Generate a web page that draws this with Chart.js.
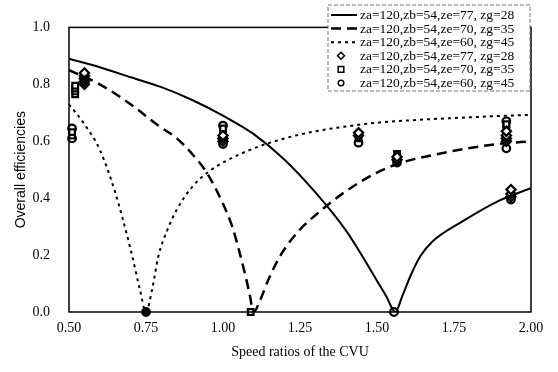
<!DOCTYPE html>
<html>
<head>
<meta charset="utf-8">
<script src="https://cdn.jsdelivr.net/npm/chart.js@4.4.1/dist/chart.umd.min.js"></script>
<style>
  html, body { margin: 0; padding: 0; background: #fff; }
  #wrap { width: 558px; height: 372px; }
</style>
</head>
<body>
<div id="wrap"><canvas id="c"></canvas></div>
<script>
// theoretical curves (speed ratio -> overall efficiency)
var solidX  = [0.5, 0.6, 0.7, 0.8, 0.9, 1.0, 1.1, 1.2, 1.3, 1.4, 1.5, 1.53, 1.56, 1.58, 1.61, 1.64, 1.68, 1.78, 1.9, 2.0];
var solidY  = [0.89, 0.86, 0.825, 0.79, 0.745, 0.69, 0.625, 0.535, 0.42, 0.285, 0.11, 0.055, 0, 0.05, 0.13, 0.195, 0.248, 0.32, 0.393, 0.435];

var dashedX = [0.5, 0.6, 0.7, 0.79, 0.85, 0.9, 0.95, 1.0, 1.03, 1.05, 1.07, 1.085, 1.1, 1.12, 1.15, 1.19, 1.25, 1.3, 1.4, 1.5, 1.58, 1.68, 1.79, 1.9, 2.0];
var dashedY = [0.85, 0.80, 0.73, 0.655, 0.61, 0.555, 0.485, 0.38, 0.30, 0.225, 0.14, 0.07, 0, 0.04, 0.12, 0.205, 0.29, 0.34, 0.425, 0.49, 0.525, 0.551, 0.574, 0.591, 0.60];

var dottedX = [0.5, 0.55, 0.6, 0.65, 0.7, 0.73, 0.75, 0.77, 0.79, 0.82, 0.85, 0.9, 0.95, 1.0, 1.1, 1.2, 1.3, 1.4, 1.5, 1.6, 1.7, 1.8, 1.9, 2.0];
var dottedY = [0.73, 0.66, 0.57, 0.42, 0.22, 0.08, 0, 0.08, 0.195, 0.29, 0.36, 0.44, 0.49, 0.525, 0.575, 0.61, 0.635, 0.652, 0.665, 0.673, 0.679, 0.684, 0.689, 0.693];

// experimental points
var diamondX = [0.55, 0.55, 0.55, 0.55, 0.55, 1.0, 1.0, 1.0, 1.44, 1.44, 1.565, 1.565, 1.92, 1.92, 1.92, 1.92, 1.935, 1.935, 1.935];
var diamondY = [0.80, 0.81, 0.82, 0.83, 0.84, 0.60, 0.61, 0.62, 0.62, 0.63, 0.535, 0.545, 0.60, 0.61, 0.62, 0.635, 0.405, 0.415, 0.43];

var squareX = [0.51, 0.51, 0.52, 0.52, 0.52, 0.52, 1.0, 1.0, 1.44, 1.565, 1.565, 1.92, 1.92, 1.92, 1.92, 1.09];
var squareY = [0.62, 0.632, 0.765, 0.775, 0.785, 0.795, 0.635, 0.645, 0.61, 0.54, 0.555, 0.605, 0.625, 0.645, 0.66, 0];

var circleX = [0.51, 0.51, 0.55, 1.0, 1.0, 1.44, 1.565, 1.92, 1.92, 1.935, 0.75, 1.555];
var circleY = [0.61, 0.645, 0.825, 0.655, 0.59, 0.595, 0.525, 0.575, 0.67, 0.395, 0, 0];

var labels = [
  'za=120,zb=54,ze=77, zg=28',
  'za=120,zb=54,ze=70, zg=35',
  'za=120,zb=54,ze=60, zg=45',
  'za=120,zb=54,ze=77, zg=28',
  'za=120,zb=54,ze=70, zg=35',
  'za=120,zb=54,ze=60, zg=45'
];

var xTicks = [0.5, 0.75, 1.0, 1.25, 1.5, 1.75, 2.0];
var yTicks = [0, 0.2, 0.4, 0.6, 0.8, 1.0];

function pts(xs, ys) {
  return xs.map(function (x, i) { return { x: x, y: ys[i] }; });
}

var serif = '"Liberation Serif", "Times New Roman", serif';
var sans = '"Liberation Sans", Arial, sans-serif';

var lineBase = {
  type: 'line',
  borderColor: '#000',
  pointRadius: 0,
  fill: false,
  cubicInterpolationMode: 'monotone'
};
var markBase = {
  type: 'scatter',
  borderColor: '#000',
  backgroundColor: '#fff',
  borderWidth: 2.2,
  pointRadius: 3.8,
  clip: false
};

var frame = {
  id: 'frame',
  afterDatasetsDraw: function (chart) {
    var a = chart.chartArea, c = chart.ctx;
    c.save();
    c.strokeStyle = '#000';
    c.lineWidth = 1.5;
    c.strokeRect(a.left, a.top, a.right - a.left, a.bottom - a.top);
    c.restore();
  }
};

var legendBox = {
  id: 'legendBox',
  afterDraw: function (chart) {
    var c = chart.ctx;
    var x0 = 328, y0 = 5, w = 202, h = 86;
    c.save();
    c.fillStyle = '#fff';
    c.fillRect(x0, y0, w, h);
    c.strokeStyle = '#777';
    c.lineWidth = 1;
    c.setLineDash([4, 2]);
    c.strokeRect(x0, y0, w, h);
    c.setLineDash([]);
    c.font = '13.5px ' + serif;
    c.textBaseline = 'middle';
    c.fillStyle = '#000';
    chart.data.datasets.forEach(function (ds, i) {
      var y = 15 + i * 13.6;
      if (ds.type === 'line') {
        c.strokeStyle = '#000';
        c.lineWidth = ds.borderWidth;
        c.setLineDash(ds.borderDash || []);
        c.beginPath();
        c.moveTo(331, y);
        c.lineTo(357, y);
        c.stroke();
        c.setLineDash([]);
      } else {
        c.lineWidth = 1.5;
        c.strokeStyle = '#000';
        c.fillStyle = '#fff';
        c.beginPath();
        var px = 341;
        if (ds.pointStyle === 'rectRot') {
          c.moveTo(px, y - 3.5); c.lineTo(px + 3.5, y); c.lineTo(px, y + 3.5); c.lineTo(px - 3.5, y); c.closePath();
        } else if (ds.pointStyle === 'rect') {
          c.rect(px - 2.8, y - 2.8, 5.6, 5.6);
        } else {
          c.arc(px, y, 2.8, 0, Math.PI * 2);
        }
        c.fill();
        c.stroke();
        c.fillStyle = '#000';
      }
      c.fillText(ds.label, 360, y + 0.5);
    });
    c.restore();
  }
};

new Chart(document.getElementById('c'), {
  data: {
    datasets: [
      Object.assign({}, lineBase, { label: labels[0], data: pts(solidX, solidY), borderWidth: 2 }),
      Object.assign({}, lineBase, { label: labels[1], data: pts(dashedX, dashedY), borderWidth: 2.5, borderDash: [10, 6] }),
      Object.assign({}, lineBase, { label: labels[2], data: pts(dottedX, dottedY), borderWidth: 2, borderDash: [3, 4] }),
      Object.assign({}, markBase, { label: labels[3], data: pts(diamondX, diamondY), pointStyle: 'rectRot', pointRadius: 4.6 }),
      Object.assign({}, markBase, { label: labels[4], data: pts(squareX, squareY), pointStyle: 'rect', pointRadius: 4 }),
      Object.assign({}, markBase, { label: labels[5], data: pts(circleX, circleY), pointStyle: 'circle',
        backgroundColor: function (ctx) { return ctx.raw && ctx.raw.x < 0.8 && ctx.raw.y === 0 ? '#000' : '#fff'; } })
    ]
  },
  options: {
    responsive: true,
    maintainAspectRatio: false,
    animation: false,
    layout: { padding: { top: 9, right: 27, left: 0, bottom: 0 } },
    plugins: { legend: { display: false }, tooltip: { enabled: false } },
    scales: {
      x: {
        type: 'linear',
        min: 0.5, max: 2.0,
        afterFit: function (s) { s.height = 60; },
        afterBuildTicks: function (s) { s.ticks = xTicks.map(function (v) { return { value: v }; }); },
        grid: { display: false, drawTicks: false },
        border: { display: false },
        ticks: {
          color: '#000', padding: 8,
          font: { family: serif, size: 14 },
          callback: function (v) { return Number(v).toFixed(2); }
        },
        title: {
          display: true, text: 'Speed ratios of the CVU', color: '#000',
          font: { family: serif, size: 14 }, padding: { top: 0, bottom: 11 }
        }
      },
      y: {
        type: 'linear',
        min: 0, max: 1.0,
        afterFit: function (s) { s.width = 69; },
        afterBuildTicks: function (s) { s.ticks = yTicks.map(function (v) { return { value: v }; }); },
        grid: { display: false, drawTicks: false },
        border: { display: false },
        ticks: {
          color: '#000', padding: 19,
          font: { family: serif, size: 14 },
          callback: function (v) { return Number(v).toFixed(1); }
        },
        title: {
          display: true, text: 'Overall efficiencies', color: '#000',
          font: { family: sans, size: 14 }, padding: { top: 13, bottom: 0 }
        }
      }
    }
  },
  plugins: [frame, legendBox]
});
</script>
</body>
</html>
